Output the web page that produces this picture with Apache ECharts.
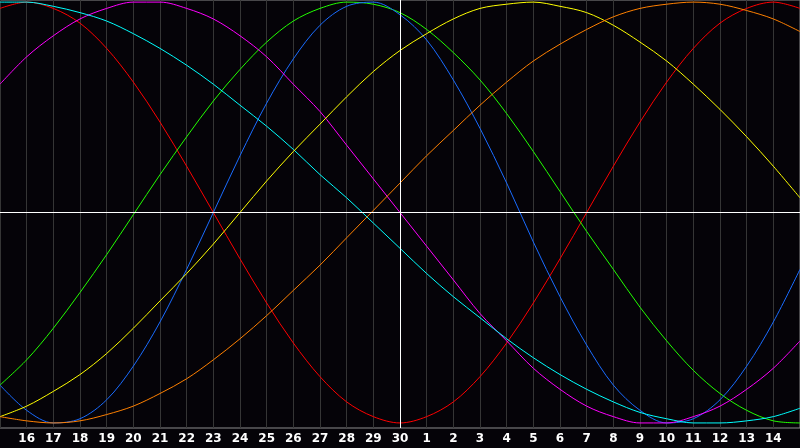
<!DOCTYPE html>
<html>
<head>
<meta charset="utf-8">
<script src="https://cdn.jsdelivr.net/npm/echarts@6/dist/echarts.min.js"></script>
<style>
  html, body { margin: 0; padding: 0; background: #050308; }
  #chart { width: 800px; height: 448px; }
</style>
</head>
<body>
<div id="chart"></div>
<script>
// day labels, one per column (first and last are not drawn)
const dayLabels = ['15', '16', '17', '18', '19', '20', '21', '22', '23', '24', '25', '26', '27', '28', '29', '30',
  '1', '2', '3', '4', '5', '6', '7', '8', '9', '10', '11', '12', '13', '14', '15'];

// curve values, -100..100
const redVals = [97, 100, 97, 90, 78, 62, 43, 22, 0, -22, -43, -62, -78, -90, -97, -100,
  -97, -90, -78, -62, -43, -22, 0, 22, 43, 62, 78, 90, 97, 100, 97];
const greenVals = [-82, -70, -55, -38, -20, -1, 18, 36, 53, 68, 81, 91, 97, 100, 99, 95,
  87, 76, 63, 47, 29, 10, -9, -27, -45, -61, -75, -86, -94, -99, -100];
const blueVals = [-82, -94, -100, -98, -89, -73, -52, -27, 0, 27, 52, 73, 89, 98, 100, 94,
  82, 63, 40, 14, -14, -40, -63, -82, -94, -100, -98, -89, -73, -52, -27];
const magentaVals = [61, 74, 84, 92, 97, 100, 100, 97, 92, 84, 74, 61, 48, 32, 16, 0,
  -16, -32, -48, -61, -74, -84, -92, -97, -100, -100, -97, -92, -84, -74, -61];
const cyanVals = [100, 100, 98, 95, 91, 85, 78, 70, 61, 51, 41, 30, 18, 7, -5, -17,
  -29, -40, -50, -60, -69, -77, -84, -90, -95, -98, -100, -100, -99, -97, -93];
const yellowVals = [-97, -92, -85, -77, -67, -55, -42, -29, -15, 0, 15, 29, 42, 55, 67, 77,
  85, 92, 97, 99, 100, 98, 95, 89, 81, 72, 61, 49, 36, 22, 7];
const orangeVals = [-97, -99, -100, -99, -96, -92, -86, -79, -70, -60, -49, -37, -25, -12, 1, 14,
  27, 39, 51, 62, 72, 80, 87, 93, 97, 99, 100, 99, 96, 92, 86];

const curves = [
  { vals: redVals, color: '#ff0000' },
  { vals: greenVals, color: '#22ff00' },
  { vals: blueVals, color: '#1a6cff' },
  { vals: magentaVals, color: '#ff00ff' },
  { vals: cyanVals, color: '#00ffff' },
  { vals: yellowVals, color: '#ffff00' },
  { vals: orangeVals, color: '#ff8000' }
];

let series = curves.map(c => ({
  type: 'line',
  data: c.vals.map((v, i) => [i, v]),
  smooth: 0.33,
  showSymbol: false,
  lineStyle: { color: c.color, width: 1 },
  silent: true
}));

// white cross lines: zero level and the current day
series.push({
  type: 'line',
  data: [],
  z: 10,
  markLine: {
    silent: true,
    symbol: 'none',
    label: { show: false },
    lineStyle: { color: '#ffffff', width: 1, type: 'solid' },
    data: [{ yAxis: 0 }, { xAxis: 15 }]
  }
});

let myChart = echarts.init(document.getElementById('chart'));
myChart.setOption({
  backgroundColor: '#050308',
  animation: false,
  grid: {
    left: 0, right: -2, top: 0, bottom: 20,
    show: true, borderColor: '#8c8c8c', borderWidth: 1
  },
  xAxis: {
    type: 'value',
    min: 0,
    max: 30,
    interval: 1,
    axisLine: { show: true, lineStyle: { color: '#a0a0a0' } },
    axisTick: { show: false },
    splitLine: { show: true, lineStyle: { color: '#353535', width: 1 } },
    axisLabel: {
      showMinLabel: false,
      showMaxLabel: false,
      color: '#ffffff',
      fontWeight: 'bold',
      fontSize: 12,
      fontFamily: 'DejaVu Sans',
      margin: 5,
      formatter: v => dayLabels[v]
    }
  },
  yAxis: {
    type: 'value',
    min: -102.4,
    max: 101,
    axisLine: { show: false },
    axisTick: { show: false },
    axisLabel: { show: false },
    splitLine: { show: false }
  },
  series: series
});
</script>
</body>
</html>
